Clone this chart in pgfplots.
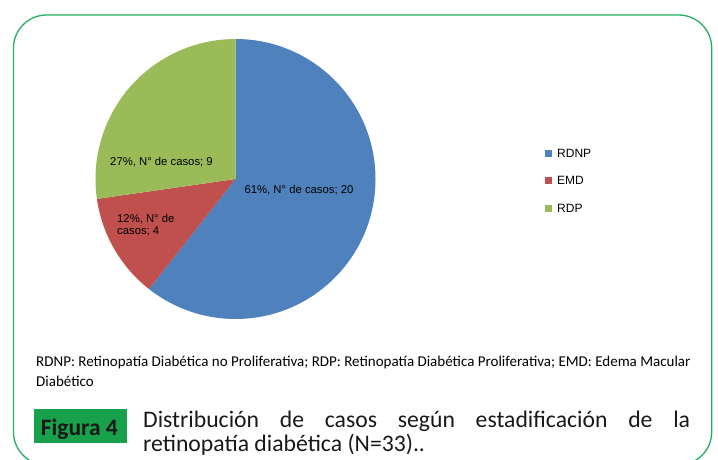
\documentclass[border=0pt]{standalone}
\usepackage{fontspec}
\setmainfont{Carlito}
\newfontfamily\arial{Liberation Sans}
\usepackage{pgfplots}
\usepackage{pgfplotstable}
\pgfplotsset{compat=1.18}
\definecolor{cblue}{RGB}{79,129,189}
\definecolor{cred}{RGB}{192,80,77}
\definecolor{cgreen}{RGB}{155,187,89}
\definecolor{framec}{RGB}{35,176,96}
\definecolor{figbox}{RGB}{24,160,74}

\pgfplotstableread{
cat n
RDNP 20
EMD 4
RDP 9
}\piedata

\begin{document}
\begin{tikzpicture}[x=1pt,y=1pt]
\useasboundingbox (0,0) rectangle (718,459);
\pgfplotstablegetelem{0}{n}\of\piedata \edef\nA{\pgfplotsretval}
\pgfplotstablegetelem{1}{n}\of\piedata \edef\nB{\pgfplotsretval}
\pgfplotstablegetelem{2}{n}\of\piedata \edef\nC{\pgfplotsretval}
\pgfmathsetmacro\tot{\nA+\nB+\nC}
\pgfmathsetmacro\aA{90-360*\nA/\tot}
\pgfmathsetmacro\aB{\aA-360*\nB/\tot}
\pgfmathsetmacro\aC{\aB-360*\nC/\tot}
\draw[framec, line width=1.3pt, rounded corners=33pt] (13.5,-6) rectangle (711.7,444);
\begin{axis}[at={(0,0)}, anchor=south west, scale only axis,
  width=718pt, height=459pt, xmin=0, xmax=718, ymin=0, ymax=459,
  axis lines=none, clip=false]
\coordinate (C) at (axis cs:235.5,280);
\fill[cblue]  (C) -- ([shift={(90:140pt)}]C) arc[start angle=90, end angle=\aA, radius=140pt] -- cycle;
\fill[cred]   (C) -- ([shift={(\aA:140pt)}]C) arc[start angle=\aA, end angle=\aB, radius=140pt] -- cycle;
\fill[cgreen] (C) -- ([shift={(\aB:140pt)}]C) arc[start angle=\aB, end angle=\aC, radius=140pt] -- cycle;
% data labels
\node[anchor=base, inner sep=0pt, font=\arial\fontsize{11.3}{12}\selectfont] at (axis cs:161.5,293.3) {27\%, N° de casos; 9};
\node[anchor=base, inner sep=0pt, font=\arial\fontsize{11.3}{12}\selectfont] at (axis cs:299,265.7) {61\%, N° de casos; 20};
\node[anchor=base west, inner sep=0pt, font=\arial\fontsize{11.3}{12}\selectfont] at (axis cs:117,236.7) {12\%, N° de};
\node[anchor=base west, inner sep=0pt, font=\arial\fontsize{11.3}{12}\selectfont] at (axis cs:117,224.7) {casos; 4};
% legend
\fill[cblue]  (axis cs:545,302.5) rectangle (axis cs:552,309.5);
\fill[cred]   (axis cs:545,275.5) rectangle (axis cs:552,282.5);
\fill[cgreen] (axis cs:545,247.5) rectangle (axis cs:552,254.5);
\node[anchor=base west, inner sep=0pt, font=\arial\fontsize{12}{14}\selectfont] at (axis cs:557,301.7) {RDNP};
\node[anchor=base west, inner sep=0pt, font=\arial\fontsize{12}{14}\selectfont] at (axis cs:557,274.7) {EMD};
\node[anchor=base west, inner sep=0pt, font=\arial\fontsize{12}{14}\selectfont] at (axis cs:557,246.7) {RDP};
% notes
\node[anchor=base west, inner sep=0pt, font=\fontsize{15}{18}\selectfont] at (axis cs:36,93) {RDNP: Retinopatía Diabética no Proliferativa; RDP: Retinopatía Diabética Proliferativa; EMD: Edema Macular};
\node[anchor=base west, inner sep=0pt, font=\fontsize{15}{18}\selectfont] at (axis cs:36,72.3) {Diabético};
% figure caption
\fill[figbox] (axis cs:34,16.3) rectangle (axis cs:127,50);
\node[anchor=base west, inner sep=0pt, font=\fontsize{23.5}{26}\selectfont\bfseries, text=black!90] at (axis cs:40.7,24) {Figura 4};
\node[anchor=base west, inner sep=0pt, font=\fontsize{23.7}{26}\selectfont, text=black!90] at (axis cs:143,31.5) {\makebox[547pt][s]{Distribución de casos según estadificación de la}};
\node[anchor=base west, inner sep=0pt, font=\fontsize{23.7}{26}\selectfont, text=black!90] at (axis cs:143,7.5) {retinopatía diabética (N=33)..};
\end{axis}
\end{tikzpicture}
\end{document}
